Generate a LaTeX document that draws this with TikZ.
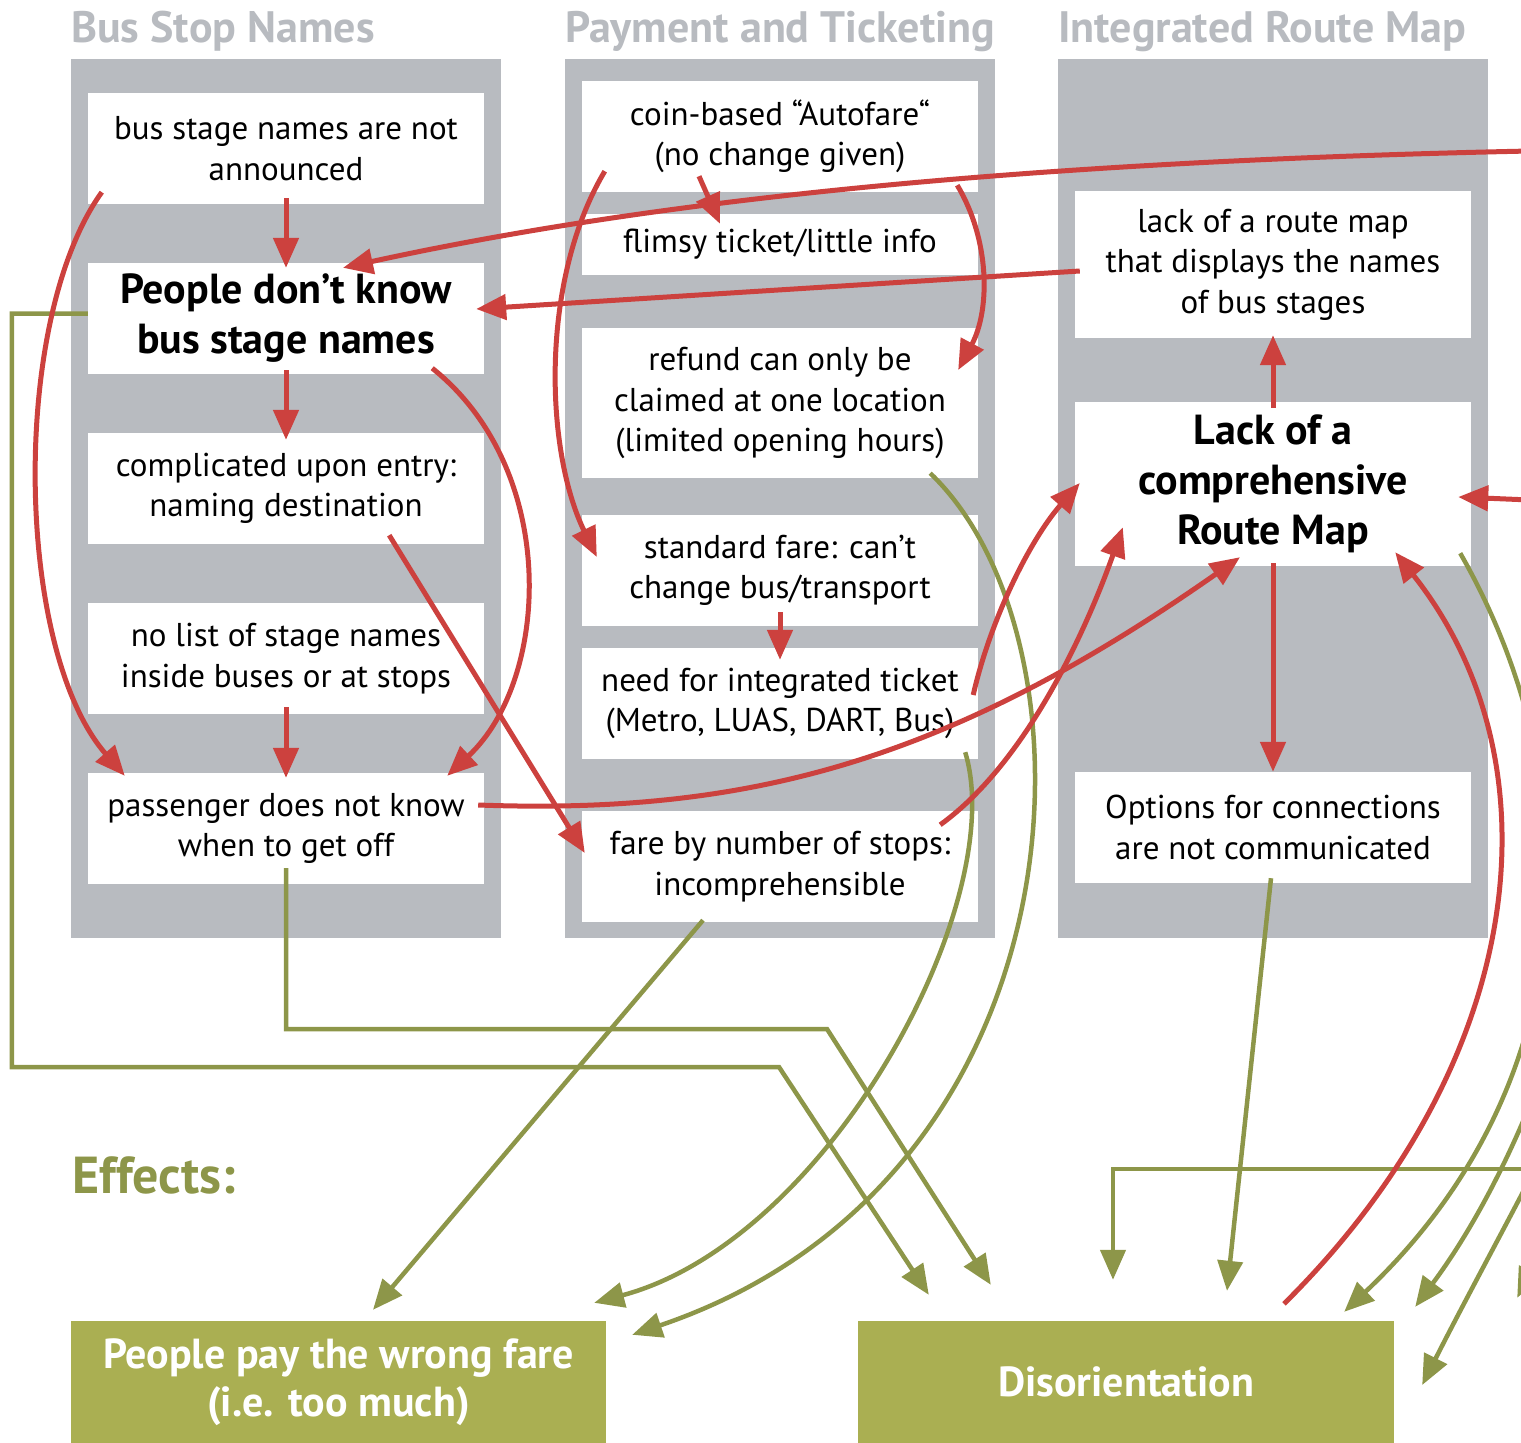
\documentclass[tikz,border=0pt]{standalone}
\usepackage{fontspec}
\setmainfont{PT Sans}
\usepackage{tikz}
\usetikzlibrary{arrows.meta, positioning, calc}

\definecolor{panelgray}{RGB}{184,187,192}
\definecolor{causered}{RGB}{204,65,62}
\definecolor{effectline}{RGB}{141,150,73}
\definecolor{effectfill}{RGB}{170,175,82}

\tikzset{
  cause/.style={fill=white, inner sep=0pt, minimum width=396pt, minimum height=111pt,
    align=center, font=\fontsize{33}{40.5}\selectfont},
  keycause/.style={cause, font=\fontsize{42}{50}\selectfont\bfseries},
  effect/.style={fill=effectfill, text=white, inner sep=0pt, minimum width=536pt,
    minimum height=122pt, align=center, font=\fontsize{42}{48}\selectfont\bfseries},
  heading/.style={anchor=base west, inner sep=0pt, text=panelgray,
    font=\fontsize{44}{50}\selectfont\bfseries},
  redarrow/.style={line width=5pt, color=causered, -{Triangle[length=30pt,width=25pt]}},
  greenarrow/.style={line width=4.5pt, color=effectline, -{Triangle[length=30pt,width=25pt]}},
}

\begin{document}
\begin{tikzpicture}[x=1pt, y=-1pt]
  \useasboundingbox (0,0) rectangle (1521,1443);
  \clip (0,0) rectangle (1521,1443);

  % the three cause columns
  \fill [panelgray] (71, 59) rectangle (501, 938);
  \fill [panelgray] (565, 59) rectangle (995, 938);
  \fill [panelgray] (1058, 59) rectangle (1488, 938);

  \node [heading] (busHead) at (71, 42) {Bus Stop Names};
  \node [heading] (payHead) at (565, 42) {Payment and Ticketing};
  \node [heading] (mapHead) at (1058, 42) {Integrated Route Map};

  \node [cause] (b1) at (286, 148.5) {bus stage names are not\\announced};
  \node [keycause] (b2) at (286, 318.5) {People don’t know\\bus stage names};
  \node [cause] (b3) at (286, 488.5) {complicated upon entry:\\naming destination};
  \node [cause] (b4) at (286, 658.5) {no list of stage names\\inside buses or at stops};
  \node [cause] (b5) at (286, 828.5) {passenger does not know\\when to get off};

  \node [cause] (c1) at (780, 136.5) {coin-based “Autofare“\\(no change given)};
  \node [cause, minimum height=61pt] (c2) at (780, 244.5) {flimsy ticket/little info};
  \node [cause, minimum height=150pt] (c3) at (780, 403) {refund can only be\\claimed at one location\\(limited opening hours)};
  \node [cause] (c4) at (780, 570.5) {standard fare: can’t\\change bus/transport};
  \node [cause] (c5) at (780, 703.5) {need for integrated ticket\\(Metro, LUAS, DART, Bus)};
  \node [cause] (c6) at (780, 866.5) {fare by number of stops:\\incomprehensible};

  \node [cause, minimum height=147pt] (d1) at (1273, 264.5) {lack of a route map\\that displays the names\\of bus stages};
  \node [keycause, minimum height=164pt] (d2) at (1273, 484) {Lack of a\\comprehensive\\Route Map};
  \node [cause] (d3) at (1273, 827.5) {Options for connections\\are not communicated};

  % effects
  \node [heading, text=effectline, font=\fontsize{52}{60}\selectfont\bfseries] (effHead) at (72, 1193) {Effects:};
  \node [effect, minimum width=535pt] (e1) at (338.5, 1382) {People pay the wrong fare\\(i.e. too much)};
  \node [effect] (e2) at (1126, 1382) {Disorientation};

  % links that leave the frame on the right
  \coordinate (offA) at (1530, 151);
  \coordinate (offB) at (1530, 500);
  \coordinate (offC) at (1540, 1169);
  \coordinate (offD) at (1560, 1020);
  \coordinate (offE) at (1560, 1120);
  \coordinate (offF) at (1610, 1150);

  % effect links
  \draw [greenarrow] ([yshift=5pt]b2.west) -- ++(-76, 0) |- (779, 1067) -- ([xshift=71pt, yshift=26pt]e2.north west);
  \draw [greenarrow] ([yshift=16pt]b5.south) |- (827, 1029) -- ([xshift=133pt, yshift=36pt]e2.north west);
  \draw [greenarrow] ([xshift=-77pt, yshift=2pt]c6.south) -- ([xshift=34.5pt, yshift=11pt]e1.north);
  \draw [greenarrow] ([xshift=-48pt, yshift=5pt]c3.south east) .. controls +(175, 167) and +(458, -155) .. ([xshift=26pt, yshift=-14pt]e1.north east);
  \draw [greenarrow] ([xshift=-13pt, yshift=7pt]c5.south east) .. controls +(45, 148) and +(236, -63) .. ([xshift=-12pt, yshift=18pt]e1.north east);
  \draw [greenarrow] ([xshift=-2pt, yshift=5pt]d3.south) -- ([xshift=101pt, yshift=30pt]e2.north);
  \draw [greenarrow] (offC) -| ([xshift=-13pt, yshift=41pt]e2.north);
  \draw [greenarrow] ([xshift=-11pt, yshift=13pt]d2.south east) .. controls +(130, 227) and +(246, -232) .. ([xshift=-50pt, yshift=9pt]e2.north east);
  \draw [greenarrow] (offD) .. controls +(-30, 100) and +(65, -87) .. ([xshift=21pt, yshift=14pt]e2.north east);
  \draw [greenarrow] (offE) .. controls +(-40, 80) and +(48, -95) .. ([xshift=28pt, yshift=-3pt]e2.east);
  \draw [greenarrow] (offF) .. controls +(-30, 60) and +(30, -60) .. ([xshift=123pt, yshift=23pt]e2.north east);

  % cause links
  \draw [redarrow] ([yshift=6pt]b1.south) -- ([yshift=-5pt]b2.north);
  \draw [redarrow] ([yshift=4pt]b2.south) -- ([yshift=-7pt]b3.north);
  \draw [redarrow] ([yshift=7pt]b4.south) -- ([yshift=-5pt]b5.north);
  \draw [redarrow] ([xshift=-81pt, yshift=16pt]c1.south) -- ([xshift=-60pt, yshift=-10pt]c2.north);
  \draw [redarrow] ([yshift=14pt]c4.south) -- ([yshift=-12pt]c5.north);
  \draw [redarrow] ([yshift=-6pt]d2.north) -- ([yshift=3pt]d1.south);
  \draw [redarrow] ([yshift=3pt]d2.south) -- (d3.north);
  \draw [redarrow] (offA) .. controls +(-430, 9) and +(357, -78) .. ([xshift=57pt, yshift=-5pt]b2.north);
  \draw [redarrow] ([xshift=5pt, yshift=-6.5pt]d1.west) -- ([xshift=-8pt, yshift=9.5pt]b2.east);
  \draw [redarrow] ([xshift=14pt, yshift=12pt]b1.south west) .. controls +(-92, 128) and +(-110, -126) .. ([xshift=37pt, yshift=-3pt]b5.north west);
  \draw [redarrow] ([xshift=-52pt, yshift=6pt]b2.south east) .. controls +(128, 102) and +(103, -96) .. ([xshift=-37pt, yshift=-3pt]b5.north east);
  \draw [redarrow] ([xshift=-95pt, yshift=9pt]b3.south east) -- ([xshift=3pt, yshift=13.5pt]c6.west);
  \draw [redarrow] ([xshift=23pt, yshift=21pt]c1.south west) .. controls +(-65, 109) and +(-52, -107) .. ([xshift=15pt, yshift=13.5pt]c4.west);
  \draw [redarrow] ([xshift=-21pt, yshift=7pt]c1.south east) .. controls +(33, 55) and +(32, -60) .. ([xshift=-20pt, yshift=33pt]c3.east);
  \draw [redarrow] ([xshift=-6pt, yshift=23.5pt]b5.east) .. controls +(272, 10) and +(-290, 203) .. ([xshift=-33pt, yshift=9pt]d2.south);
  \draw [redarrow] ([xshift=-5pt, yshift=8.5pt]c5.east) .. controls +(17, -75) and +(-50, 57) .. ([xshift=5pt, yshift=1pt]d2.west);
  \draw [redarrow] ([xshift=-38pt, yshift=-14pt]c6.north east) .. controls +(90, -65) and +(-33, 93) .. ([xshift=48pt, yshift=39pt]d2.south west);
  \draw [redarrow] (offB) -- ([xshift=-13pt, yshift=-13pt]d2.east);
  \draw [redarrow] ([xshift=158pt, yshift=17pt]e2.north) .. controls +(246, -244) and +(165, 208) .. ([xshift=-76pt, yshift=14pt]d2.south east);
\end{tikzpicture}
\end{document}
